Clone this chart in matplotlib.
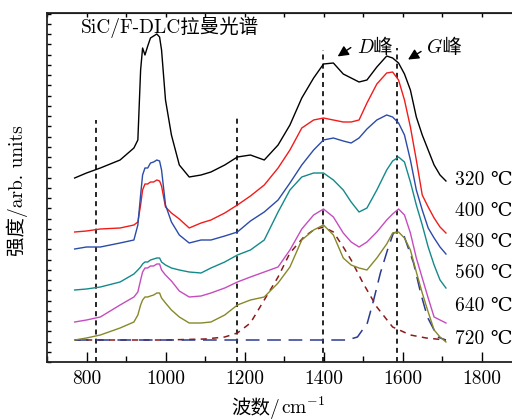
import matplotlib
matplotlib.use('Agg')
import matplotlib.pyplot as plt
from matplotlib.ticker import MultipleLocator, FuncFormatter, NullFormatter

plt.rcParams['font.family'] = ['cmr10', 'DejaVu Serif', 'Noto Sans CJK SC']
plt.rcParams['mathtext.fontset'] = 'cm'
plt.rcParams['axes.unicode_minus'] = False

# wavenumber grid of the measured spectra (cm-1)
wn = [770, 800, 835, 885, 920, 930, 937, 942, 948, 955, 962, 970, 978, 985, 990, 1000,
      1015, 1035, 1060, 1090, 1115, 1150, 1182, 1215, 1250, 1285, 1315, 1345, 1375,
      1400, 1425, 1450, 1470, 1490, 1510, 1535, 1560, 1575, 1590, 1605, 1620, 1635,
      1650, 1665, 1680, 1695, 1710]

# stacked intensities (arb. units, offsets included)
s320 = [184, 189, 194, 202, 214, 222, 292, 314, 307, 316, 324, 326, 328, 325, 312, 262,
        227, 197, 185, 187, 190, 197, 205, 207, 202, 217, 237, 264, 284, 298, 299, 288,
        284, 280, 282, 295, 306, 304, 299, 288, 272, 245, 227, 212, 197, 187, 181]
s400 = [130, 131, 133, 134, 137, 140, 157, 172, 178, 178, 180, 180, 182, 181, 176, 155,
        149, 143, 134, 139, 142, 149, 157, 166, 177, 194, 212, 234, 242, 244, 242, 240,
        240, 242, 259, 278, 289, 290, 282, 262, 235, 202, 167, 155, 144, 135, 129]
s480 = [113, 115, 115, 119, 122, 137, 167, 187, 194, 194, 199, 200, 202, 201, 192, 157,
        140, 127, 119, 122, 122, 126, 130, 141, 150, 162, 179, 197, 212, 222, 224, 221,
        219, 224, 233, 242, 247, 245, 239, 227, 202, 172, 152, 134, 124, 115, 108]
s560 = [72, 73, 75, 80, 88, 92, 95, 98, 100, 100, 102, 103, 104, 104, 100, 97, 94, 92,
        90, 89, 94, 100, 107, 112, 122, 150, 172, 185, 189, 189, 182, 172, 160, 150, 154,
        172, 192, 201, 205, 200, 180, 157, 137, 115, 97, 82, 74]
s640 = [40, 42, 45, 57, 65, 70, 82, 90, 94, 94, 96, 96, 98, 98, 92, 87, 81, 71, 65, 66,
        69, 74, 80, 85, 90, 95, 112, 133, 147, 153, 145, 129, 120, 115, 120, 130, 142,
        148, 153, 147, 129, 104, 84, 64, 45, 42, 39]
s720 = [22, 24, 27, 34, 40, 47, 57, 62, 65, 65, 66, 67, 69, 69, 64, 59, 52, 45, 39, 39,
        40, 47, 57, 62, 65, 79, 95, 122, 132, 137, 127, 104, 97, 94, 92, 104, 118, 129,
        130, 124, 112, 90, 69, 50, 32, 25, 20]

# fitted D and G bands of the 720 C spectrum
d_wn = [770, 1000, 1100, 1150, 1182, 1215, 1250, 1285, 1315, 1350, 1375, 1400, 1425,
        1450, 1470, 1500, 1535, 1575, 1620, 1660, 1710]
d_fit = [22, 22, 23, 25, 29, 39, 62, 85, 109, 125, 132, 135, 130, 115, 102, 79, 55, 35,
         27, 24, 22]
g_wn = [770, 1460, 1486, 1511, 1527, 1544, 1562, 1577, 1587, 1603, 1628, 1646, 1663,
        1689, 1710]
g_fit = [22, 22, 25, 39, 62, 89, 112, 129, 130, 127, 99, 69, 45, 25, 22]

temps = ['320', '400', '480', '560', '640', '720']
label_y = [182, 151, 120, 89, 56, 23]
colors = ['black', '#f21b1b', '#2c4aa8', '#14898a', '#c54cbf', '#87882a']
spectra = [s320, s400, s480, s560, s640, s720]

vlines_x = [823, 1182, 1398, 1585]
vlines_top = [242, 244, 312, 314]

fig = plt.figure(figsize=(5.12, 4.19), dpi=100)
ax = fig.add_axes([47 / 512, 1 - 362 / 419, 474 / 512, 349 / 419])

for x, top in zip(vlines_x, vlines_top):
    ax.plot([x, x], [0, top], color='black', lw=1.2, dashes=(3, 2.5))

ax.plot(d_wn, d_fit, color='#8b1a1a', lw=1.1, dashes=(4, 3.5))
ax.plot(g_wn, g_fit, color='#2b3a8f', lw=1.1, dashes=(9, 5))

for s, c in zip(spectra, colors):
    ax.plot(wn, s, color=c, lw=1.0)

for t, yv in zip(temps, label_y):
    ax.text(1734, yv, f'{t} ℃', fontsize=14, va='center', ha='left')

ax.text(787, 335, 'SiC/F-DLC拉曼光谱', fontsize=14, va='center', ha='left')
ax.text(1486, 314, 'D峰', fontsize=14, va='center', ha='left',
        family=['cmmi10', 'Noto Sans CJK SC'])
ax.text(1663, 314, 'G峰', fontsize=14, va='center', ha='left',
        family=['cmmi10', 'Noto Sans CJK SC'])
ax.annotate('', xy=(1430, 304), xytext=(1475, 316),
            arrowprops=dict(arrowstyle='-|>', color='black', lw=1.0, mutation_scale=16))
ax.annotate('', xy=(1608, 301), xytext=(1653, 312),
            arrowprops=dict(arrowstyle='-|>', color='black', lw=1.0, mutation_scale=16))

ax.set_xlim(700, 1900)
ax.set_ylim(0, 349)
ax.xaxis.set_major_locator(MultipleLocator(200))
ax.xaxis.set_minor_locator(MultipleLocator(100))
ax.xaxis.set_major_formatter(FuncFormatter(lambda v, p: f'{v:.0f}'))
ax.yaxis.set_major_locator(MultipleLocator(10.25))
ax.yaxis.set_major_formatter(NullFormatter())
ax.tick_params(axis='x', which='major', direction='in', length=7, width=1.0,
               labelsize=14, pad=6)
ax.tick_params(axis='x', which='minor', direction='in', length=4, width=1.0)
ax.tick_params(axis='y', which='major', direction='in', length=3, width=1.0)

top = ax.secondary_xaxis('top')
top.xaxis.set_major_locator(MultipleLocator(100))
top.xaxis.set_major_formatter(NullFormatter())
top.tick_params(direction='in', length=3, width=1.0)

for sp in ax.spines.values():
    sp.set_linewidth(1.3)
    sp.set_color('#222222')

# x label in two pieces so the superscript can use mathtext
fig.text(280 / 512, 5 / 419, '波数/', fontsize=14, ha='right', va='baseline')
fig.text(281 / 512, 5 / 419, r'$\mathrm{cm}^{-1}$', fontsize=14, ha='left',
         va='baseline')
ax.set_ylabel('强度/arb. units', fontsize=14)
ax.yaxis.set_label_coords(-0.04, 0.49)

fig.savefig('out.png', dpi=100)
